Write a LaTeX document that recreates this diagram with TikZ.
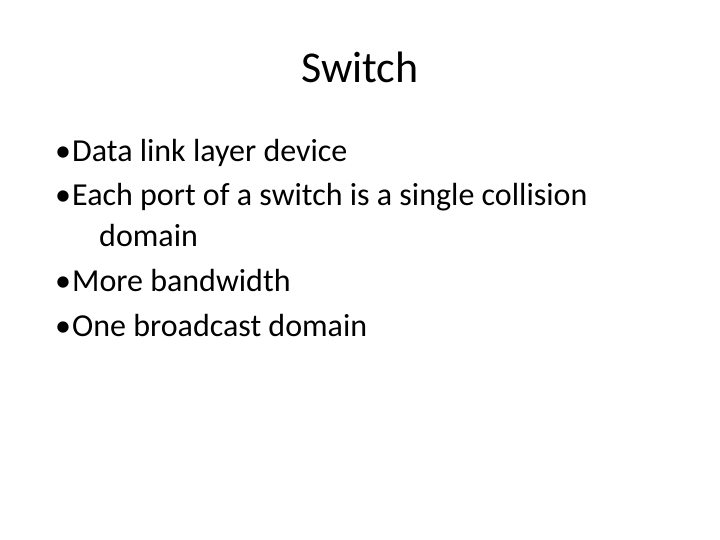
\documentclass[tikz,border=0pt]{standalone}
\usepackage{fontspec}
\setmainfont{Carlito}
\begin{document}
\begin{tikzpicture}[x=1pt,y=-1pt,
  body/.style={anchor=base west,inner sep=0pt,font=\fontsize{32}{34}\selectfont}]
\useasboundingbox (0,0) rectangle (720,540);
\node[anchor=base,inner sep=0pt,font=\fontsize{44}{46}\selectfont] (title) at (360,83) {Switch};
\node[body] (b1) at (55,162) {•};
\node[body] (t1) at (72,162) {Data link layer device};
\node[body] (b2) at (55,206) {•};
\node[body] (t2) at (72,206) {Each port of a switch is a single collision};
\node[body] (t2b) at (99,246) {domain};
\node[body] (b3) at (55,291) {•};
\node[body] (t3) at (72,291) {More bandwidth};
\node[body] (b4) at (55,336) {•};
\node[body] (t4) at (72,336) {One broadcast domain};
\end{tikzpicture}
\end{document}
